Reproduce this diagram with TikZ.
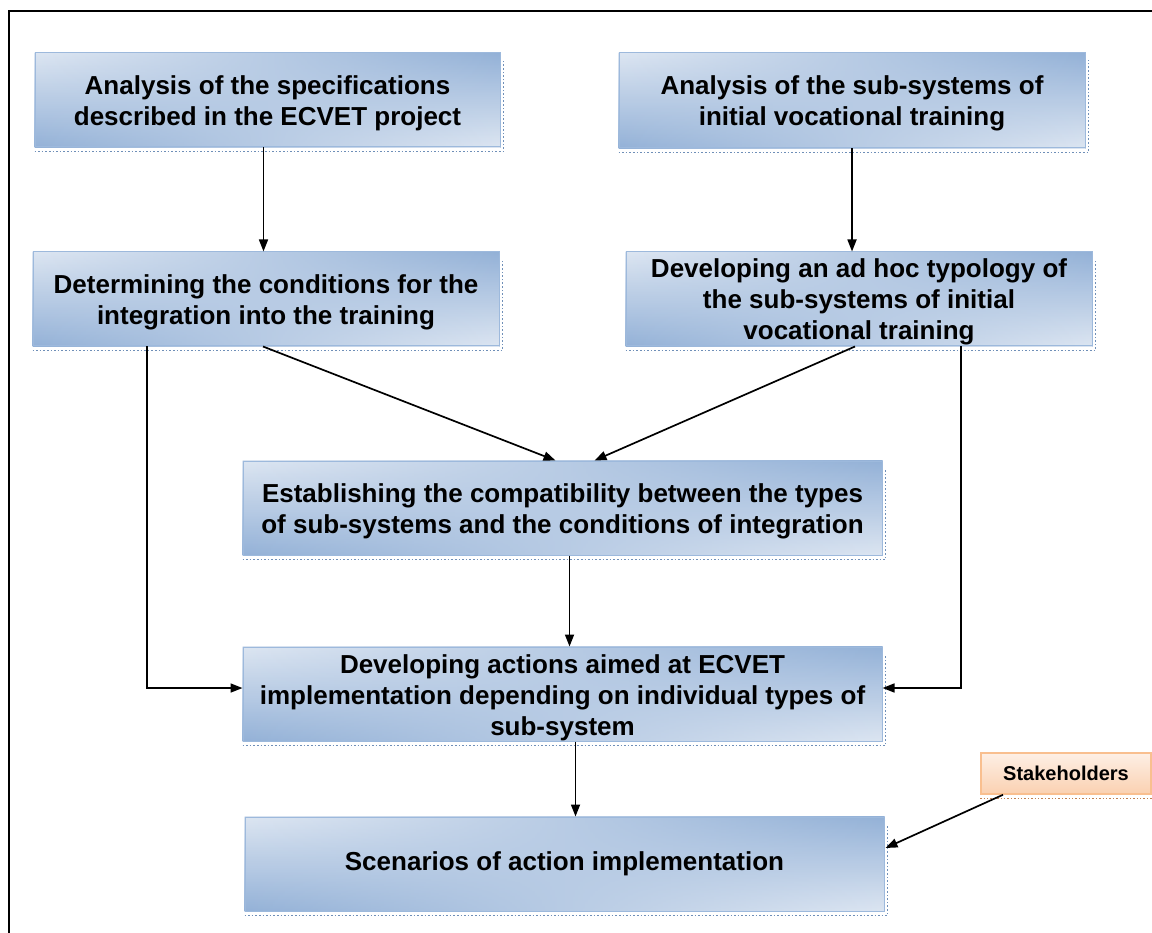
\documentclass[tikz,border=0pt]{standalone}
\usepackage{fontspec}
\setmainfont{Liberation Sans}
\usetikzlibrary{arrows.meta,backgrounds,fadings,calc}
\definecolor{bluelight}{HTML}{DDE6F2}
\definecolor{bluedark}{HTML}{93B1D7}
\definecolor{blueedge}{HTML}{9DB9DC}
\definecolor{blueshadow}{HTML}{6F8FB8}
\definecolor{peachlight}{HTML}{FEF0E6}
\definecolor{peachdark}{HTML}{FAD0B0}
\definecolor{peachedge}{HTML}{F9BF8F}
\definecolor{peachshadow}{HTML}{C08050}
\tikzfading[name=fadeR, left color=transparent!100, right color=transparent!0]
\newcommand{\lowr}{\rule{0pt}{25.5pt}}
\begin{document}
\begin{tikzpicture}[x=1pt,y=-1pt,
  stepbox/.style={draw=blueedge, line width=1pt, inner sep=0pt, align=center,
    font=\fontsize{26}{31}\selectfont\bfseries},
  stakebox/.style={draw=peachedge, line width=1.5pt, inner sep=0pt, align=center,
    font=\fontsize{20}{22}\selectfont\bfseries},
  conn/.style={line width=1.7pt, -{Triangle[length=12pt,width=9pt]}}]
\useasboundingbox (0,0) rectangle (1152,933);
\begin{scope}
\clip (0,0) rectangle (1152,933);
\draw[line width=2pt] (9,11) rectangle (1170,950);
\end{scope}

\node[stepbox, minimum width=465, minimum height=94] (b1) at (267.5,100)
  {\lowr Analysis of the specifications\\described in the ECVET project};
\node[stepbox, minimum width=466, minimum height=95] (b2) at (852,100.5)
  {\lowr Analysis of the sub-systems of\\initial vocational training};
\node[stepbox, minimum width=466, minimum height=94] (b3) at (266,299)
  {\lowr Determining the conditions for the\\integration into the training};
\node[stepbox, minimum width=466, minimum height=94] (b4) at (859,299)
  {\lowr Developing an ad hoc typology of\\the sub-systems of initial\\vocational training};
\node[stepbox, minimum width=639, minimum height=94] (b5) at (562.5,508)
  {\lowr Establishing the compatibility between the types\\of sub-systems and the conditions of integration};
\node[stepbox, minimum width=639, minimum height=94] (b6) at (562.5,694)
  {\lowr Developing actions aimed at ECVET\\implementation depending on individual types of\\sub-system};
\node[stepbox, minimum width=639, minimum height=94] (b7) at (564.5,864)
  {Scenarios of action implementation};
\node[stakebox, minimum width=170, minimum height=41] (sh) at (1066,773.5)
  {Stakeholders};

\begin{scope}[on background layer]
\foreach \n in {b1,b2,b3,b4,b5,b6,b7}{
  \shade[top color=bluelight, bottom color=bluedark] (\n.south west) rectangle (\n.north east);
  \shade[top color=bluedark, bottom color=bluelight, path fading=fadeR] (\n.south west) rectangle (\n.north east);
  \draw[blueshadow, dotted, line width=1.6pt]
    ([yshift=-4pt]\n.south west) -- ([xshift=3pt,yshift=-4pt]\n.south east)
    -- ([xshift=3pt,yshift=-8pt]\n.north east);
}
\shade[top color=peachlight, bottom color=peachdark] (sh.south west) rectangle (sh.north east);
\draw[peachshadow, dotted, line width=1.4pt]
  ([yshift=-4pt]sh.south west) -- ([yshift=-4pt]sh.south east);
\end{scope}

\coordinate (lrail) at (147,688);
\coordinate (rrail) at (961,688);

\draw[conn] ([xshift=-4pt]b1.south) -- ([xshift=-4pt]b1.south |- b3.north);
\draw[conn] (b2.south) -- (b2.south |- b4.north);
\draw[conn] ([xshift=-3pt]b3.south) -- ([xshift=-7pt]b5.north);
\draw[conn] ([xshift=-4pt]b4.south) -- ([xshift=32pt]b5.north);
\draw[conn] (b3.south -| lrail) -- (lrail) -- (lrail -| b6.west);
\draw[conn] (b4.south -| rrail) -- (rrail) -- (rrail -| b6.east);
\draw[conn] ([xshift=7pt]b5.south) -- ([xshift=7pt]b5.south |- b6.north);
\draw[conn] ([xshift=13pt]b6.south) -- ([xshift=13pt]b6.south |- b7.north);
\draw[conn] ([xshift=-63pt]sh.south) -- ([xshift=1pt,yshift=16pt]b7.east);
\end{tikzpicture}
\end{document}
